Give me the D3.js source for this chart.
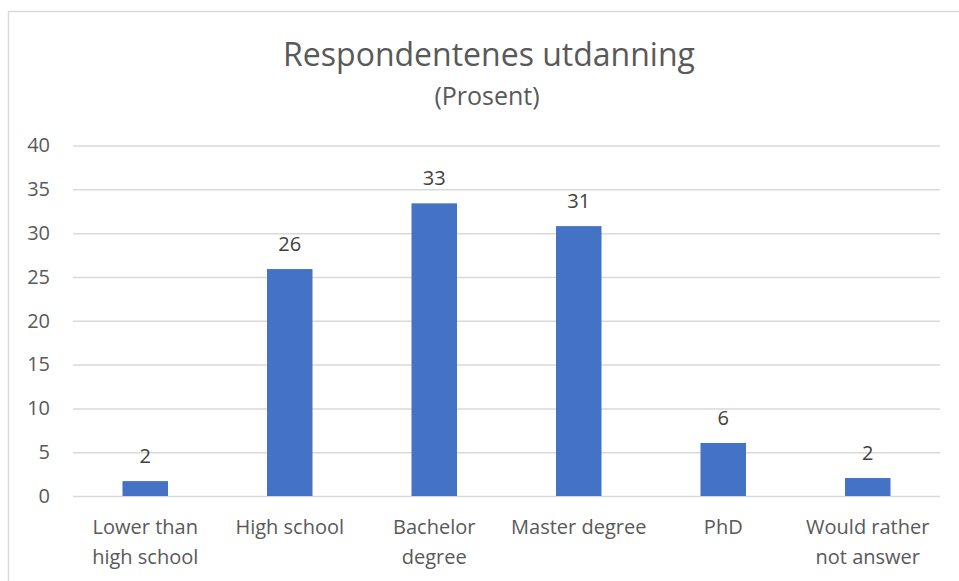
<!DOCTYPE html>
<html>
<head>
<meta charset="utf-8">
<script src="https://cdn.jsdelivr.net/npm/d3@7"></script>
<style>
  body { margin: 0; background: #fff; }
  svg { display: block; font-family: 'Open Sans', sans-serif; }
</style>
</head>
<body>
<svg id="chart" width="959" height="581"></svg>
<script>
// data
var categories = [
  ['Lower than', 'high school'],
  ['High school'],
  ['Bachelor', 'degree'],
  ['Master degree'],
  ['PhD'],
  ['Would rather', 'not answer']
];
var values = [1.7, 25.9, 33.4, 30.8, 6.05, 2.05];
var labels = ['2', '26', '33', '31', '6', '2'];
var yTicks = [0, 5, 10, 15, 20, 25, 30, 35, 40];

var svg = d3.select('#chart');
var width = +svg.attr('width');
var height = +svg.attr('height');
var margin = { top: 145.5, right: 19, bottom: 85, left: 73 };

var barColor = '#4472c4';
var gridColor = '#d9d9d9';
var textColor = '#595959';

// chart frame (runs off the right and bottom edge)
svg.append('rect')
  .attr('x', 8.5)
  .attr('y', 11.5)
  .attr('width', width + 20)
  .attr('height', height + 20)
  .attr('fill', '#fff')
  .attr('stroke', gridColor)
  .attr('stroke-width', 1.5);

var x = d3.scaleBand()
  .domain(d3.range(categories.length))
  .range([margin.left, width - margin.right]);

var y = d3.scaleLinear()
  .domain([0, 40])
  .range([height - margin.bottom, margin.top]);

// title
svg.append('text')
  .attr('x', 489)
  .attr('y', 66)
  .attr('text-anchor', 'middle')
  .attr('fill', textColor)
  .style('font-size', '32px')
  .text('Respondentenes utdanning');
svg.append('text')
  .attr('x', 487)
  .attr('y', 105)
  .attr('text-anchor', 'middle')
  .attr('fill', textColor)
  .style('font-size', '25px')
  .text('(Prosent)');

// y axis with gridlines
var yAxis = svg.append('g')
  .attr('transform', 'translate(' + margin.left + ',0)')
  .call(d3.axisLeft(y)
    .tickValues(yTicks)
    .tickSize(-(width - margin.left - margin.right))
    .tickPadding(23));
yAxis.select('.domain').remove();
yAxis.selectAll('.tick line')
  .attr('stroke', gridColor)
  .attr('stroke-width', 1.5);
yAxis.selectAll('.tick text')
  .attr('fill', textColor)
  .style('font-size', '20px')
  .style('font-family', "'Open Sans', sans-serif");

// bars
var barW = x.bandwidth() * 0.315;
svg.selectAll('rect.bar')
  .data(values)
  .enter()
  .append('rect')
  .attr('class', 'bar')
  .attr('x', function (d, i) { return x(i) + (x.bandwidth() - barW) / 2; })
  .attr('y', function (d) { return y(d); })
  .attr('width', barW)
  .attr('height', function (d) { return y(0) - y(d); })
  .attr('fill', barColor);

// value labels
svg.selectAll('text.val')
  .data(values)
  .enter()
  .append('text')
  .attr('class', 'val')
  .attr('x', function (d, i) { return x(i) + x.bandwidth() / 2; })
  .attr('y', function (d) { return y(d) - 18; })
  .attr('text-anchor', 'middle')
  .attr('fill', '#404040')
  .style('font-size', '20px')
  .text(function (d, i) { return labels[i]; });

// category labels
var cat = svg.selectAll('text.cat')
  .data(categories)
  .enter()
  .append('text')
  .attr('class', 'cat')
  .attr('text-anchor', 'middle')
  .attr('fill', textColor)
  .style('font-size', '20px');
cat.selectAll('tspan')
  .data(function (d, i) { return d.map(function (s) { return { s: s, i: i }; }); })
  .enter()
  .append('tspan')
  .attr('x', function (d) { return x(d.i) + x.bandwidth() / 2; })
  .attr('y', function (d, j) { return 534 + j * 30; })
  .text(function (d) { return d.s; });
</script>
</body>
</html>
